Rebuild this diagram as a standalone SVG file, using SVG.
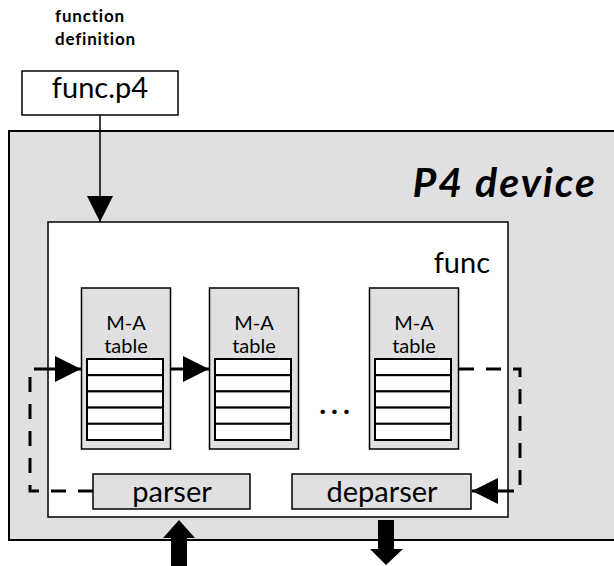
<svg xmlns="http://www.w3.org/2000/svg" width="614" height="566" viewBox="0 0 614 566">
<style>
text{font-family:Lato,"Open Sans","Liberation Sans",sans-serif;fill:#000}
.gray{fill:#e0e0e2;stroke:#000}
.white{fill:#fff;stroke:#000}
.row{fill:#fff;stroke:#000;stroke-width:2}
.lbl{font-size:29px;text-anchor:middle}
.ma{font-size:20px;text-anchor:middle}
.dash{fill:none;stroke:#000;stroke-width:3;stroke-dasharray:15 12}
.solid{fill:none;stroke:#000;stroke-width:3}
</style>
<defs>
<marker id="tri" viewBox="0 0 26 26" refX="26" refY="13" markerWidth="26" markerHeight="26" markerUnits="userSpaceOnUse" orient="auto">
<path d="M0,0 L26,13 L0,26 Z" fill="#000"/>
</marker>
<g id="rows">
<rect class="row" x="0" y="0" width="76" height="16.2"/>
<rect class="row" x="0" y="16.2" width="76" height="16.2"/>
<rect class="row" x="0" y="32.4" width="76" height="16.2"/>
<rect class="row" x="0" y="48.6" width="76" height="16.2"/>
<rect class="row" x="0" y="64.8" width="76" height="16.2"/>
</g>
</defs>
<g id="title">
<text x="55" y="22" font-size="17" font-weight="bold" letter-spacing="0.8">function</text>
<text x="55" y="45" font-size="17" font-weight="bold" letter-spacing="0.8">definition</text>
</g>
<g id="funcp4">
<rect class="white" x="22" y="71" width="156" height="44" stroke-width="1.5"/>
<text class="lbl" x="100" y="98">func.p4</text>
</g>
<g id="device">
<rect class="gray" x="9" y="131" width="610" height="409" stroke-width="2"/>
<text x="597" y="197" font-size="41" font-weight="bold" font-style="italic" letter-spacing="2" text-anchor="end">P4 device</text>
</g>
<g id="func">
<rect class="white" x="48" y="222" width="460" height="295" stroke-width="1.5"/>
<text x="490" y="273" font-size="29" text-anchor="end">func</text>
</g>
<g id="table1">
<rect class="gray" x="81.5" y="288" width="89" height="161" stroke-width="1.5"/>
<text class="ma" x="126" y="330">M-A</text>
<text class="ma" x="126" y="353">table</text>
<use href="#rows" x="87" y="359"/>
</g>
<g id="table2">
<rect class="gray" x="209.5" y="288" width="89" height="161" stroke-width="1.5"/>
<text class="ma" x="254" y="330">M-A</text>
<text class="ma" x="254" y="353">table</text>
<use href="#rows" x="215" y="359"/>
</g>
<g id="ellipsis">
<text x="337" y="414" font-size="29" font-weight="bold" letter-spacing="5" text-anchor="middle">...</text>
</g>
<g id="table3">
<rect class="gray" x="369.5" y="288" width="89" height="161" stroke-width="1.5"/>
<text class="ma" x="414" y="330">M-A</text>
<text class="ma" x="414" y="353">table</text>
<use href="#rows" x="375" y="359"/>
</g>
<g id="parser">
<rect class="gray" x="93" y="474" width="157" height="35" stroke-width="1.5"/>
<text class="lbl" x="172" y="502">parser</text>
</g>
<g id="deparser">
<rect class="gray" x="292" y="474" width="179" height="35" stroke-width="1.5"/>
<text class="lbl" x="382" y="502">deparser</text>
</g>
<g id="connectors">
<line x1="100" y1="115" x2="100" y2="222" stroke="#000" stroke-width="1.5" marker-end="url(#tri)"/>
<path class="dash" d="M93,491 H30 V369 H42"/>
<line class="solid" x1="42" y1="369" x2="81" y2="369" marker-end="url(#tri)"/>
<line class="solid" x1="171" y1="369" x2="209" y2="369" marker-end="url(#tri)"/>
<path class="dash" d="M459,369 H520 V491 H505"/>
<line class="solid" x1="505" y1="491" x2="472" y2="491" marker-end="url(#tri)"/>
<path d="M171,566 V538 H163 L179,520 L195,538 H187 V566 Z" fill="#000"/>
<path d="M378,520 H394 V549 H403 L386,565 L370,549 H378 Z" fill="#000"/>
</g>
</svg>
